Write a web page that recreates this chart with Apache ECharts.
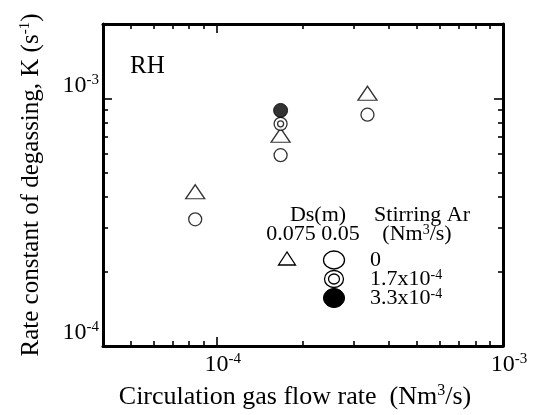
<!DOCTYPE html>
<html><head><meta charset="utf-8">
<script src="https://cdn.jsdelivr.net/npm/echarts@6/dist/echarts.min.js"></script>
<style>html,body{margin:0;padding:0;background:#fff}#c{width:547px;height:415px}</style>
</head><body><div id="c"></div>
<script>
const FONT = '"Liberation Serif", "Times New Roman", serif';

// ---- data ----
// Ds = 0.075 m, stirring Ar = 0  (triangles)
const flowTri = [8.4e-5, 1.67e-4, 3.36e-4];
const kTri    = [4.2e-4, 7.1e-4, 1.05e-3];
// Ds = 0.05 m, stirring Ar = 0  (open circles)
const flowOpen = [8.4e-5, 1.67e-4, 3.36e-4];
const kOpen    = [3.25e-4, 5.9e-4, 8.6e-4];
// Ds = 0.05 m, stirring Ar = 1.7e-4 (double circle)
const flowDouble = [1.67e-4];
const kDouble    = [7.9e-4];
// Ds = 0.05 m, stirring Ar = 3.3e-4 (filled circle)
const flowFilled = [1.67e-4];
const kFilled    = [8.95e-4];

// axis ticks
const xMajor = [1e-4, 1e-3];
const xMinor = [5e-5, 6e-5, 7e-5, 8e-5, 9e-5, 2e-4, 3e-4, 4e-4, 5e-4, 6e-4, 7e-4, 8e-4, 9e-4];
const yMajor = [1e-4, 1e-3];
const yMinor = [2e-4, 3e-4, 4e-4, 5e-4, 6e-4, 7e-4, 8e-4, 9e-4];
const xRange = [4e-5, 1e-3];
const yRange = [1e-4, 2e-3];

const pairs = (xs, ys) => xs.map((x, i) => [x, ys[i]]);
const expOf = v => Math.round(Math.log10(v));

const rich = {
  s: { width: 12, fontSize: 24, fontFamily: FONT },
  a: { fontSize: 24, fontFamily: FONT, color: '#000', lineHeight: 26 },
  b: { fontSize: 15, fontFamily: FONT, color: '#000', verticalAlign: 'top', lineHeight: 15 }
};
const richTitle = {
  a: { fontSize: 26, fontFamily: FONT, color: '#000', lineHeight: 28 },
  b: { fontSize: 16, fontFamily: FONT, color: '#000', verticalAlign: 'top', lineHeight: 16 }
};

function axis(kind, pos, range, ticks, len, withLine, labels) {
  const a = {
    type: 'log', logBase: 10, min: range[0], max: range[1], position: pos,
    axisLine: { show: withLine, onZero: false, lineStyle: { color: '#000', width: 3 } },
    axisTick: { show: true, inside: true, length: len, customValues: ticks,
                lineStyle: { color: '#000', width: 1.6 } },
    axisLabel: { show: false },
    splitLine: { show: false }, minorTick: { show: false }, minorSplitLine: { show: false }
  };
  if (labels) {
    a.axisLabel = {
      show: true, customValues: labels, rich: rich,
      formatter: kind === 'x'
        ? v => '{s| }{a|10}{b|' + expOf(v) + '}'
        : v => '{a|10}{b|' + expOf(v) + '}',
      margin: kind === 'x' ? 6 : 4,
      verticalAlign: kind === 'x' ? 'top' : 'bottom'
    };
  }
  return a;
}

const xAxes = [
  axis('x', 'bottom', xRange, xMajor, 9, true, xMajor),
  axis('x', 'bottom', xRange, xMinor, 5, false, null),
  axis('x', 'top', xRange, xMajor, 9, true, null),
  axis('x', 'top', xRange, xMinor, 5, false, null)
];
const yAxes = [
  axis('y', 'left', yRange, yMajor, 9, true, yMajor),
  axis('y', 'left', yRange, yMinor, 5, false, null),
  axis('y', 'right', yRange, yMajor, 9, true, null),
  axis('y', 'right', yRange, yMinor, 5, false, null)
];
xAxes[0].name = '{a|Circulation gas flow rate  (Nm}{b|3}{a|/s)}';
xAxes[0].nameLocation = 'middle';
xAxes[0].nameGap = 37;
xAxes[0].nameTextStyle = { rich: richTitle, padding: [0, 16, 0, 0] };
yAxes[0].name = '{a|Rate constant of degassing, K (s}{b|-1}{a|)}';
yAxes[0].nameLocation = 'middle';
yAxes[0].nameGap = 58;
yAxes[0].nameTextStyle = { rich: { a: { fontSize: 25, fontFamily: FONT, color: '#000', lineHeight: 27 },
                                   b: { fontSize: 15, fontFamily: FONT, color: '#000', verticalAlign: 'top', lineHeight: 15 } } };

const openStyle = { color: '#fff', borderColor: '#000', borderWidth: 1.3 };

const option = {
  backgroundColor: '#fff',
  animation: false,
  grid: { left: 103, right: 44, top: 24, bottom: 69, containLabel: false },
  xAxis: xAxes,
  yAxis: yAxes,
  series: [
    { name: 'Ds 0.075, Ar 0', type: 'scatter', symbol: 'triangle', symbolSize: [19, 14],
      itemStyle: openStyle, data: pairs(flowTri, kTri) },
    { name: 'Ds 0.05, Ar 0', type: 'scatter', symbol: 'circle', symbolSize: 13,
      itemStyle: openStyle, data: pairs(flowOpen, kOpen) },
    { name: 'Ds 0.05, Ar 1.7e-4', type: 'scatter', symbol: 'circle', symbolSize: 13,
      itemStyle: openStyle, data: pairs(flowDouble, kDouble) },
    { name: 'Ds 0.05, Ar 1.7e-4 (inner)', type: 'scatter', symbol: 'circle', symbolSize: 6,
      itemStyle: openStyle, data: pairs(flowDouble, kDouble), z: 3 },
    { name: 'Ds 0.05, Ar 3.3e-4', type: 'scatter', symbol: 'circle', symbolSize: 14,
      itemStyle: { color: '#000', borderColor: '#000', borderWidth: 1 }, data: pairs(flowFilled, kFilled) }
  ],
  graphic: [
    { type: 'text', left: 130, top: 54, style: { text: 'RH', font: '25px ' + FONT, fill: '#000' } },
    { type: 'text', x: 318, y: 215, style: { text: 'Ds(m)', font: '22px ' + FONT, fill: '#000', align: 'center', verticalAlign: 'middle' } },
    { type: 'text', x: 422, y: 215, style: { text: 'Stirring Ar', font: '22px ' + FONT, fill: '#000', align: 'center', verticalAlign: 'middle' } },
    { type: 'text', x: 313, y: 234, style: { text: '0.075 0.05', font: '22px ' + FONT, fill: '#000', align: 'center', verticalAlign: 'middle' } },
    { type: 'text', x: 417, y: 234, style: { text: '{a|(Nm}{b|3}{a|/s)}', align: 'center', verticalAlign: 'middle',
        rich: { a: { font: '22px ' + FONT, fill: '#000' }, b: { font: '14px ' + FONT, fill: '#000', verticalAlign: 'top' } } } },
    { type: 'polygon', shape: { points: [[287, 252], [278.5, 265], [295.5, 265]] },
      style: { fill: '#fff', stroke: '#000', lineWidth: 1.3 } },
    { type: 'ellipse', shape: { cx: 334, cy: 260, rx: 10.5, ry: 9 }, style: { fill: '#fff', stroke: '#000', lineWidth: 1.3 } },
    { type: 'text', x: 370, y: 260, style: { text: '0', font: '22px ' + FONT, fill: '#000', verticalAlign: 'middle' } },
    { type: 'ellipse', shape: { cx: 334, cy: 279, rx: 9.5, ry: 8.5 }, style: { fill: '#fff', stroke: '#000', lineWidth: 1.3 } },
    { type: 'ellipse', shape: { cx: 334, cy: 279, rx: 5.5, ry: 5 }, style: { fill: '#fff', stroke: '#000', lineWidth: 1.3 } },
    { type: 'text', x: 370, y: 279, style: { text: '{a|1.7x10}{b|-4}', verticalAlign: 'middle',
        rich: { a: { font: '22px ' + FONT, fill: '#000' }, b: { font: '14px ' + FONT, fill: '#000', verticalAlign: 'top' } } } },
    { type: 'ellipse', shape: { cx: 334, cy: 298, rx: 10.5, ry: 9.5 }, style: { fill: '#000', stroke: '#000', lineWidth: 1 } },
    { type: 'text', x: 370, y: 298, style: { text: '{a|3.3x10}{b|-4}', verticalAlign: 'middle',
        rich: { a: { font: '22px ' + FONT, fill: '#000' }, b: { font: '14px ' + FONT, fill: '#000', verticalAlign: 'top' } } } }
  ]
};

const chart = echarts.init(document.getElementById('c'), null, { renderer: 'canvas' });
chart.setOption(option);
</script>
</body></html>
